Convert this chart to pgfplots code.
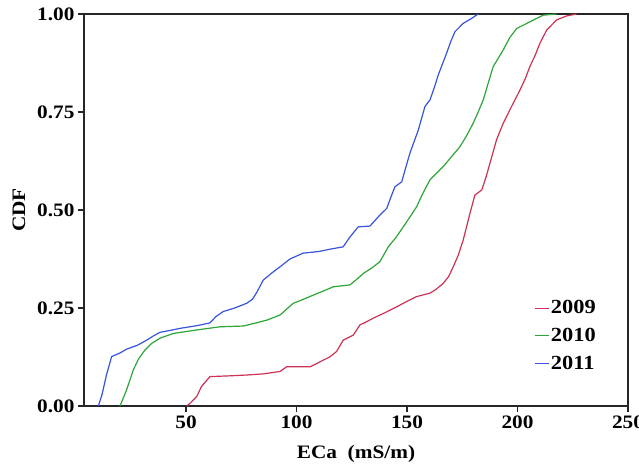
\documentclass[border=0pt]{standalone}
\usepackage{fontspec}
\setmainfont[FakeStretch=1.12]{Liberation Serif}
\usepackage{pgfplots}
\pgfplotsset{compat=1.18}
\definecolor{c09}{RGB}{205,50,85}
\definecolor{c10}{RGB}{45,165,55}
\definecolor{c11}{RGB}{55,85,220}
\begin{document}
\begin{tikzpicture}
\path[use as bounding box] (-84bp,-59bp) rectangle (555bp,406bp);
\begin{axis}[
    scale only axis,
    width=544bp, height=392bp,
    xmin=3.8, xmax=250, ymin=0, ymax=1,
    xtick={50,100,150,200,250},
    ytick={0,0.25,0.5,0.75,1},
    yticklabel style={/pgf/number format/.cd, fixed, fixed zerofill, precision=2},
    /pgf/number format/assume math mode=true,
    ticklabel style={font=\fontsize{19bp}{21bp}\selectfont\bfseries},
    label style={font=\fontsize{19bp}{21bp}\selectfont\bfseries},
    xlabel={ECa~~(mS/m)},
    ylabel={CDF},
    xlabel style={yshift=-10bp},
    ylabel style={yshift=5bp},
    tick pos=left, tick align=outside,
    major tick length=6bp,
    axis line style={line width=1.3bp, black!85},
    every tick/.style={line width=1.3bp, black!85},
    legend style={draw=none, fill=none, at={(0.822,0.28)}, anchor=north west,
        font=\fontsize{20bp}{22bp}\selectfont\bfseries, row sep=9bp,
        /tikz/every even column/.append style={column sep=0bp}},
    legend cell align=left,
    legend image code/.code={\draw[#1, line width=0.6bp] (0bp,0bp) -- (14bp,0bp);},
]
\addplot[c09, line width=1.2bp] coordinates {
(50.3,0) (52,0.008) (54.8,0.024) (57,0.05) (60.8,0.075) (70,0.077) (77.4,0.079)
(85,0.082) (92.5,0.088) (95.5,0.1) (106.1,0.1) (109,0.108) (112.1,0.117) (115,0.125)
(118.1,0.139) (121.1,0.168) (125.7,0.181) (128.7,0.207) (131,0.213) (134.7,0.224)
(140,0.238) (145.3,0.253) (150,0.267) (154.3,0.279) (160.4,0.288) (163,0.297)
(166.4,0.313) (168.8,0.33) (170.9,0.355) (173.2,0.385) (175.4,0.423) (178.5,0.492)
(180.7,0.538) (183.8,0.551) (185.8,0.585) (187.5,0.619) (190.5,0.679) (193.5,0.721)
(197.3,0.764) (201.1,0.806) (203.5,0.835) (205.6,0.866) (208,0.895) (210.1,0.925)
(213.2,0.959) (217.7,0.985) (222.2,0.995) (226.7,1.0)
};
\addlegendentry{2009}
\addplot[c10, line width=1.2bp] coordinates {
(20.1,0) (23,0.04) (26.1,0.092) (28.5,0.12) (31.4,0.143) (34.5,0.16) (38.2,0.173)
(44.2,0.185) (54.8,0.194) (65.3,0.202) (75.9,0.204) (81,0.211) (86.5,0.219)
(92.5,0.232) (98.5,0.262) (103,0.272) (107.6,0.283) (112,0.293) (116.6,0.304)
(124.2,0.309) (127,0.322) (130.2,0.338) (134,0.352) (137.7,0.368) (141.5,0.406)
(145,0.43) (148.3,0.457) (151.3,0.482) (154.3,0.508) (157.4,0.545) (160.4,0.577)
(166.4,0.611) (170,0.635) (173.9,0.661) (177,0.69) (179.9,0.721) (182.2,0.75)
(184.5,0.781) (186.8,0.825) (189,0.866) (193.5,0.908) (196.5,0.94) (199.6,0.963)
(205.6,0.98) (211.6,0.997) (217.7,1.0)
};
\addlegendentry{2010}
\addplot[c11, line width=1.2bp] coordinates {
(10.3,0) (12,0.03) (14,0.08) (16.3,0.126) (20,0.135) (23.1,0.145) (28,0.155)
(32.2,0.168) (35,0.178) (38.2,0.188) (43,0.193) (47.2,0.198) (55,0.205) (60.8,0.212)
(63.5,0.228) (66.8,0.241) (72,0.25) (77.4,0.262) (80,0.272) (82,0.29) (84.9,0.321)
(88.5,0.338) (92.5,0.355) (97,0.375) (103,0.39) (110,0.394) (115.1,0.4) (121.1,0.406)
(124,0.43) (127.9,0.457) (133.2,0.459) (137.7,0.487) (140.8,0.504) (142.5,0.53)
(144.5,0.559) (147.6,0.572) (149.5,0.61) (151.3,0.645) (155.1,0.704) (158.1,0.764)
(160.4,0.781) (162.2,0.81) (164.1,0.844) (167.9,0.9) (169.8,0.93) (171.7,0.955)
(175.4,0.976) (179,0.988) (182.2,1.0)
};
\addlegendentry{2011}
\end{axis}
\end{tikzpicture}
\end{document}
